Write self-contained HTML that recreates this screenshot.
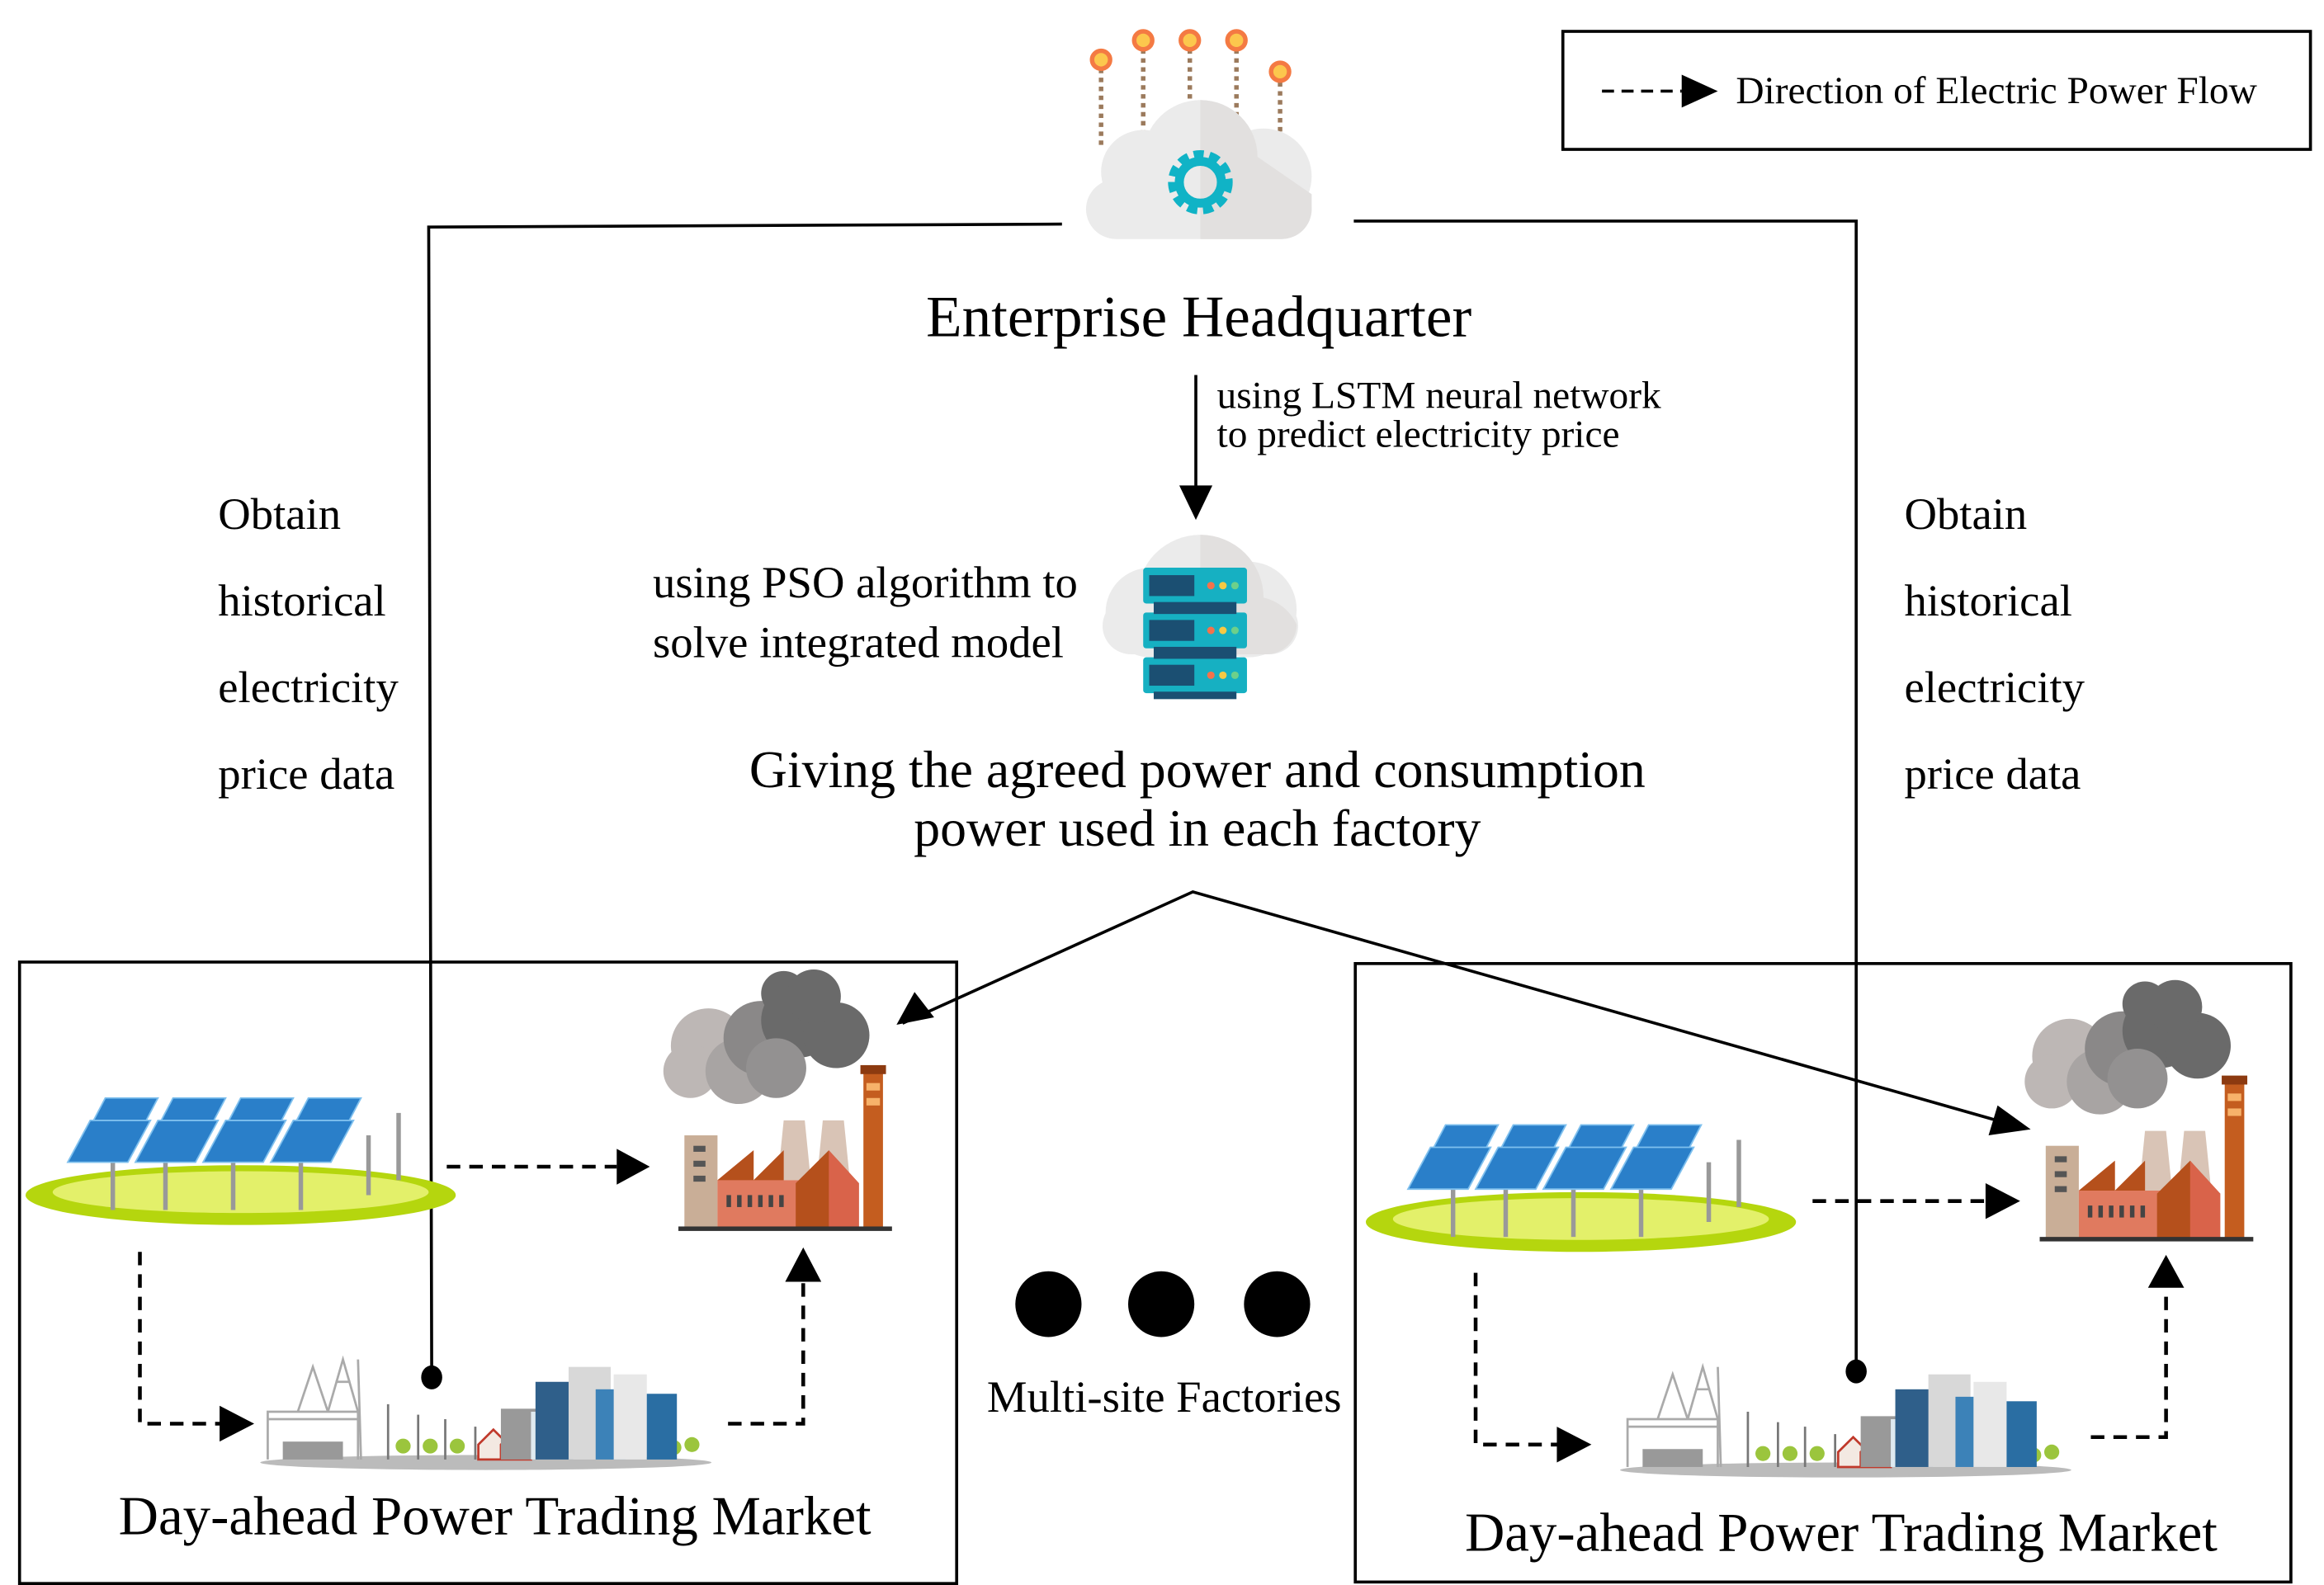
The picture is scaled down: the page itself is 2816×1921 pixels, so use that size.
<!DOCTYPE html>
<html><head><meta charset="utf-8"><style>
html,body{margin:0;padding:0;background:#fff;}
svg{display:block;}
text{font-family:"Liberation Serif",serif;fill:#000;}
</style></head><body>
<svg width="2816" height="1921" viewBox="0 0 1545 1061" preserveAspectRatio="none" xmlns="http://www.w3.org/2000/svg">
<defs>
<g id="solar">
 <ellipse cx="0" cy="0" rx="143" ry="20" fill="#b5d60e"/>
 <ellipse cx="0" cy="-2" rx="125" ry="14" fill="#e3f06a"/>
 <g stroke="#999" stroke-width="3">
  <line x1="-85" y1="-40" x2="-85" y2="10"/><line x1="-50" y1="-40" x2="-50" y2="10"/><line x1="-5" y1="-40" x2="-5" y2="10"/><line x1="40" y1="-40" x2="40" y2="10"/><line x1="85" y1="-40" x2="85" y2="0"/><line x1="105" y1="-55" x2="105" y2="-10"/>
 </g>
 <g fill="#2a7fc9" stroke="#7fc0ee" stroke-width="1">
  <path d="M-90,-65 L-55,-65 L-68,-40 L-103,-40z"/><path d="M-45,-65 L-10,-65 L-23,-40 L-58,-40z"/><path d="M0,-65 L35,-65 L22,-40 L-13,-40z"/><path d="M45,-65 L80,-65 L67,-40 L32,-40z"/>
  <path d="M-100,-50 L-60,-50 L-75,-22 L-115,-22z"/><path d="M-55,-50 L-15,-50 L-30,-22 L-70,-22z"/><path d="M-10,-50 L30,-50 L15,-22 L-25,-22z"/><path d="M35,-50 L75,-50 L60,-22 L20,-22z"/>
 </g>
</g>
<g id="factory">
 <circle cx="30" cy="45" r="25" fill="#bdb7b5"/><circle cx="18" cy="62" r="18" fill="#bdb7b5"/><circle cx="50" cy="62" r="22" fill="#a8a4a3"/>
 <circle cx="65" cy="40" r="25" fill="#8a8888"/><circle cx="90" cy="28" r="25" fill="#6a6a6a"/><circle cx="115" cy="38" r="22" fill="#6a6a6a"/><circle cx="80" cy="10" r="15" fill="#6a6a6a"/><circle cx="100" cy="12" r="18" fill="#6a6a6a"/><circle cx="75" cy="60" r="20" fill="#939191"/>
 <rect x="133" y="62" width="13" height="105" fill="#c45d1f"/><rect x="131" y="58" width="17" height="6" fill="#8c3a10"/><rect x="135" y="70" width="9" height="5" fill="#f7b26a"/><rect x="135" y="80" width="9" height="5" fill="#f7b26a"/>
 <path d="M80,95 L94,95 L98,135 L76,135z" fill="#d9c4b6"/><path d="M106,95 L120,95 L124,135 L102,135z" fill="#d9c4b6"/>
 <rect x="14" y="105" width="22" height="62" fill="#c9ae97"/>
 <rect x="20" y="112" width="8" height="4" fill="#555"/><rect x="20" y="122" width="8" height="4" fill="#555"/><rect x="20" y="132" width="8" height="4" fill="#555"/>
 <path d="M36,135 L60,115 L60,135 L80,115 L80,135 L95,135 L95,167 L36,167z" fill="#e07a5f"/>
 <path d="M36,135 L60,115 L60,135 L80,115 L80,135z" fill="#b5501c"/>
 <path d="M88,137 L110,115 L130,137 L130,167 L88,167z" fill="#b5501c"/><path d="M110,115 L130,137 L130,167 L110,167z" fill="#d9634a"/>
 <g fill="#444"><rect x="42" y="145" width="3" height="8"/><rect x="49" y="145" width="3" height="8"/><rect x="56" y="145" width="3" height="8"/><rect x="63" y="145" width="3" height="8"/><rect x="70" y="145" width="3" height="8"/><rect x="77" y="145" width="3" height="8"/></g>
 <rect x="10" y="166" width="142" height="3" fill="#333"/>
</g>
<g id="city">
 <ellipse cx="155" cy="74" rx="150" ry="5" fill="#bbb"/>
 <g stroke="#aaa" stroke-width="1.5" fill="none">
  <path d="M10,72 L10,40 L70,40 L70,72 M10,45 L70,45"/><path d="M50,40 L60,5 L70,40 M55,20 L65,20"/><path d="M30,40 L40,10 L50,40"/><path d="M70,5 L72,72"/>
 </g>
 <rect x="20" y="60" width="40" height="12" fill="#999"/>
 <g stroke="#777" stroke-width="1.5"><line x1="90" y1="35" x2="90" y2="72"/><line x1="110" y1="42" x2="110" y2="72"/><line x1="128" y1="45" x2="128" y2="72"/><line x1="148" y1="50" x2="148" y2="72"/></g>
 <g fill="#9bc53d"><circle cx="100" cy="63" r="5"/><circle cx="118" cy="63" r="5"/><circle cx="136" cy="63" r="5"/><circle cx="280" cy="64" r="5"/><circle cx="292" cy="62" r="5"/></g>
 <path d="M150,62 L160,52 L170,62 L170,72 L150,72z M165,62 L175,52 L185,62 L185,72 L165,72z" fill="#f3e9e2" stroke="#c0392b" stroke-width="1.5"/>
 <rect x="165" y="38" width="25" height="34" fill="#999"/>
 <rect x="185" y="40" width="25" height="32" fill="#dfeaf0"/>
 <rect x="188" y="20" width="25" height="52" fill="#2f5f8a"/>
 <rect x="210" y="10" width="28" height="62" fill="#d8d8d8"/>
 <rect x="228" y="25" width="20" height="47" fill="#3c82b8"/>
 <rect x="240" y="15" width="22" height="57" fill="#e8e8e8"/>
 <rect x="262" y="28" width="20" height="44" fill="#2a6ea3"/>
</g>
</defs>

<rect x="1039" y="21" width="497" height="79" fill="none" stroke="#000" stroke-width="2"/>
<line x1="1065" y1="61" x2="1118" y2="61" stroke="#000" stroke-width="2" stroke-dasharray="8,5"/>
<path d="M1118,50 L1142,61 L1118,72z" fill="#000"/>
<text x="1154" y="69" font-size="26">Direction of Electric Power Flow</text>

<g stroke="#9b7a5c" stroke-width="3" stroke-dasharray="3,3">
<line x1="732" y1="46" x2="732" y2="100"/><line x1="760" y1="33" x2="760" y2="95"/><line x1="791" y1="33" x2="791" y2="80"/><line x1="822" y1="33" x2="822" y2="85"/><line x1="851" y1="55" x2="851" y2="105"/>
</g>
<g fill="#fcc74d" stroke="#f47a43" stroke-width="3">
<circle cx="732" cy="40" r="6"/><circle cx="760" cy="27" r="6"/><circle cx="791" cy="27" r="6"/><circle cx="822" cy="27" r="6"/><circle cx="851" cy="48" r="6"/>
</g>
<g fill="#ebebeb"><circle cx="798" cy="105" r="38"/><circle cx="760" cy="115" r="28"/><circle cx="840" cy="118" r="32"/><rect x="722" y="120" width="150" height="40" rx="20"/></g>
<path d="M798,67 A38,38 0 0 1 836,105 L872,130 L872,140 A20,20 0 0 1 852,160 L798,160z" fill="#e2e0df"/>
<circle cx="798" cy="122" r="17" fill="none" stroke="#10b3c6" stroke-width="9" stroke-dasharray="6,3.5"/>
<circle cx="798" cy="122" r="14" fill="none" stroke="#10b3c6" stroke-width="6"/>

<polyline points="706,150 285,152 287,920" fill="none" stroke="#000" stroke-width="2"/>
<polyline points="900,148 1234,148 1234,918" fill="none" stroke="#000" stroke-width="2"/>
<ellipse cx="287" cy="922" rx="7" ry="8" fill="#000"/>
<ellipse cx="1234" cy="918" rx="7" ry="8" fill="#000"/>

<text x="797" y="225" font-size="39" text-anchor="middle">Enterprise Headquarter</text>
<line x1="795" y1="251" x2="795" y2="328" stroke="#000" stroke-width="2"/>
<path d="M784,325 L806,325 L795,348z" fill="#000"/>
<text x="809" y="273" font-size="26">using LSTM neural network</text>
<text x="809" y="299" font-size="26">to predict electricity price</text>

<g font-size="30">
<text x="145" y="354">Obtain</text><text x="145" y="412">historical</text><text x="145" y="470">electricity</text><text x="145" y="528">price data</text>
<text x="1266" y="354">Obtain</text><text x="1266" y="412">historical</text><text x="1266" y="470">electricity</text><text x="1266" y="528">price data</text>
<text x="434" y="400">using PSO algorithm to</text><text x="434" y="440">solve integrated model</text>
</g>

<g fill="#ebebeb"><circle cx="798" cy="400" r="42"/><circle cx="765" cy="410" r="30"/><circle cx="830" cy="408" r="32"/><rect x="733" y="400" width="130" height="38" rx="19"/></g>
<path d="M798,358 A42,42 0 0 1 840,400 A32,32 0 0 1 862,418 A20,20 0 0 1 842,438 L798,438z" fill="#e2e0df"/>
<g fill="#16b0c2">
<rect x="760" y="380" width="69" height="24" rx="2"/><rect x="760" y="410" width="69" height="24" rx="2"/><rect x="760" y="440" width="69" height="24" rx="2"/>
</g>
<rect x="767" y="403" width="55" height="8" fill="#1b4f72"/><rect x="767" y="433" width="55" height="8" fill="#1b4f72"/><rect x="767" y="463" width="55" height="5" fill="#1b4f72"/>
<g fill="#1b4f72">
<rect x="764" y="385" width="30" height="14"/><rect x="764" y="415" width="30" height="14"/><rect x="764" y="445" width="30" height="14"/>
</g>
<g><circle cx="805" cy="392" r="2.5" fill="#f4724b"/><circle cx="813" cy="392" r="2.5" fill="#f6c944"/><circle cx="821" cy="392" r="2.5" fill="#6dd08a"/>
<circle cx="805" cy="422" r="2.5" fill="#f4724b"/><circle cx="813" cy="422" r="2.5" fill="#f6c944"/><circle cx="821" cy="422" r="2.5" fill="#6dd08a"/>
<circle cx="805" cy="452" r="2.5" fill="#f4724b"/><circle cx="813" cy="452" r="2.5" fill="#f6c944"/><circle cx="821" cy="452" r="2.5" fill="#6dd08a"/></g>

<text x="796" y="527" font-size="35" text-anchor="middle">Giving the agreed power and consumption</text>
<text x="796" y="566" font-size="35" text-anchor="middle">power used in each factory</text>

<polyline points="600,685 793,597 1345,755" fill="none" stroke="#000" stroke-width="2"/>
<path d="M596,686 L608,664 L621,681z" fill="#000"/>
<path d="M1350,756 L1328,740 L1322,760z" fill="#000"/>

<rect x="13" y="644" width="623" height="416" fill="none" stroke="#000" stroke-width="2"/>
<rect x="901" y="645" width="622" height="414" fill="none" stroke="#000" stroke-width="2"/>

<use href="#solar" x="160" y="800"/>
<use href="#factory" x="441" y="655"/>
<use href="#city" x="168" y="905"/>
<g stroke="#000" stroke-width="2.5" stroke-dasharray="9,6" fill="none">
<line x1="297" y1="781" x2="410" y2="781"/>
<polyline points="93,838 93,953 150,953"/>
<polyline points="484,953 534,953 534,858"/>
</g>
<path d="M410,769 L432,781 L410,793z" fill="#000"/>
<path d="M146,941 L169,953 L146,965z" fill="#000"/>
<path d="M522,858 L534,835 L546,858z" fill="#000"/>
<text x="329" y="1027" font-size="36.7" text-anchor="middle">Day-ahead Power Trading Market</text>

<use href="#solar" x="1051" y="818"/>
<use href="#factory" x="1346" y="662"/>
<use href="#city" x="1072" y="910"/>
<g stroke="#000" stroke-width="2.5" stroke-dasharray="9,6" fill="none">
<line x1="1205" y1="804" x2="1322" y2="804"/>
<polyline points="981,852 981,967 1037,967"/>
<polyline points="1390,962 1440,962 1440,862"/>
</g>
<path d="M1320,792 L1343,804 L1320,816z" fill="#000"/>
<path d="M1035,955 L1058,967 L1035,979z" fill="#000"/>
<path d="M1428,862 L1440,840 L1452,862z" fill="#000"/>
<text x="1224" y="1038" font-size="36.7" text-anchor="middle">Day-ahead Power Trading Market</text>

<ellipse cx="697" cy="873" rx="22" ry="22"/>
<ellipse cx="772" cy="873" rx="22" ry="22"/>
<ellipse cx="849" cy="873" rx="22" ry="22"/>
<text x="774" y="945" font-size="30" text-anchor="middle">Multi-site Factories</text>
</svg>
</body></html>
